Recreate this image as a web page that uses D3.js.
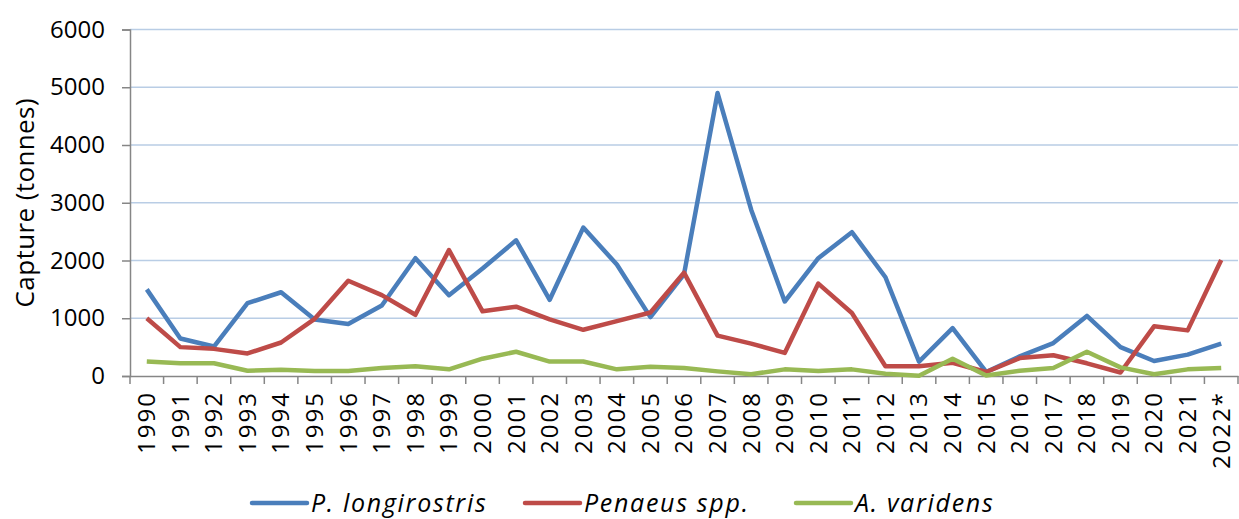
<!DOCTYPE html>
<html>
<head>
<meta charset="utf-8">
<script src="https://cdn.jsdelivr.net/npm/d3@7"></script>
<style>
  body { margin: 0; background: #fff; }
  text { font-family: "Open Sans", "Liberation Sans", sans-serif; fill: #000; }
</style>
</head>
<body>
<svg id="chart"></svg>
<script>
const width = 1239
const height = 519

const years = ['1990','1991','1992','1993','1994','1995','1996','1997','1998','1999',
  '2000','2001','2002','2003','2004','2005','2006','2007','2008','2009',
  '2010','2011','2012','2013','2014','2015','2016','2017','2018','2019',
  '2020','2021','2022*']
const longirostris = [1500, 650, 510, 1260, 1450, 980, 900, 1220, 2040, 1400,
  1860, 2350, 1320, 2570, 1930, 1020, 1760, 4900, 2880, 1290,
  2040, 2490, 1710, 250, 830, 70, 340, 570, 1040, 500,
  260, 370, 560]
const penaeus = [1000, 500, 470, 390, 580, 990, 1650, 1400, 1060, 2180,
  1120, 1200, 980, 800, 950, 1100, 1790, 700, 560, 400,
  1600, 1090, 170, 170, 230, 70, 310, 360, 220, 60,
  860, 790, 2010]
const varidens = [250, 220, 220, 90, 110, 85, 85, 140, 170, 115,
  300, 420, 250, 250, 115, 160, 140, 80, 30, 115,
  85, 115, 40, 5, 300, 10, 90, 140, 420, 150,
  30, 115, 140]
const yTicks = [0, 1000, 2000, 3000, 4000, 5000, 6000]

const seriesList = [
  { name: 'P. longirostris', values: longirostris, color: '#4a7ebb' },
  { name: 'Penaeus spp.', values: penaeus, color: '#be4b48' },
  { name: 'A. varidens', values: varidens, color: '#98b954' }
]

const margin = { left: 130, right: 1, top: 29.5, bottom: 143 }
const svg = d3.select('#chart').attr('width', width).attr('height', height)

const x = d3.scaleBand().domain(years).range([margin.left, width - margin.right])
const y = d3.scaleLinear().domain([0, 6000]).range([height - margin.bottom, margin.top])

// grid
svg.append('g')
  .selectAll('line')
  .data(yTicks.filter(d => d > 0))
  .join('line')
  .attr('x1', margin.left).attr('x2', width - margin.right)
  .attr('y1', d => y(d)).attr('y2', d => y(d))
  .attr('stroke', '#b9cde5').attr('stroke-width', 1.5)

// y axis
const yAxis = svg.append('g')
  .attr('transform', `translate(${margin.left},0)`)
  .call(d3.axisLeft(y).tickValues(yTicks).tickFormat(d3.format('d')).tickSize(8).tickPadding(17))
yAxis.select('.domain').attr('stroke', '#868686').attr('stroke-width', 1.5)
yAxis.selectAll('.tick line').attr('stroke', '#868686').attr('stroke-width', 1.5)
yAxis.selectAll('.tick text').style('font-size', '24px').attr('fill', '#000')

// x axis
const xAxis = svg.append('g')
  .attr('transform', `translate(0,${y(0)})`)
  .call(d3.axisBottom(x).tickSize(0).tickSizeOuter(0))
xAxis.select('.domain').attr('stroke', '#868686').attr('stroke-width', 1.5)
xAxis.selectAll('.tick text')
  .style('font-size', '24px')
  .style('letter-spacing', '2px')
  .attr('text-anchor', 'end')
  .attr('transform', 'rotate(-90)')
  .attr('x', -15).attr('y', 0).attr('dy', '0.35em')
xAxis.append('g')
  .selectAll('line')
  .data(years.map(d => x(d)).concat([x(years[years.length - 1]) + x.bandwidth()]))
  .join('line')
  .attr('x1', d => d).attr('x2', d => d)
  .attr('y1', 0).attr('y2', 8)
  .attr('stroke', '#868686').attr('stroke-width', 1.5)

// y title
svg.append('text')
  .attr('transform', `translate(34,${(y(0) + y(6000)) / 2}) rotate(-90)`)
  .attr('text-anchor', 'middle')
  .style('font-size', '26px')
  .style('letter-spacing', '0.4px')
  .text('Capture (tonnes)')

// lines
const line = d3.line()
  .x((d, i) => x(years[i]) + x.bandwidth() / 2)
  .y(d => y(d))

svg.append('g')
  .selectAll('path')
  .data(seriesList)
  .join('path')
  .attr('d', d => line(d.values))
  .attr('fill', 'none')
  .attr('stroke', d => d.color)
  .attr('stroke-width', 4.5)
  .attr('stroke-linejoin', 'round')

// legend
const legendX = [252, 525, 796]
const legend = svg.append('g')
  .selectAll('g')
  .data(seriesList)
  .join('g')
  .attr('transform', (d, i) => `translate(${legendX[i]},503)`)
legend.append('line')
  .attr('x1', 0).attr('x2', 55)
  .attr('stroke', d => d.color).attr('stroke-width', 4.5)
  .attr('stroke-linecap', 'round')
legend.append('text')
  .attr('x', 59).attr('dy', '0.35em')
  .style('font-size', '25px').style('font-style', 'italic')
  .style('letter-spacing', '1.7px')
  .text(d => d.name)
</script>
</body>
</html>
